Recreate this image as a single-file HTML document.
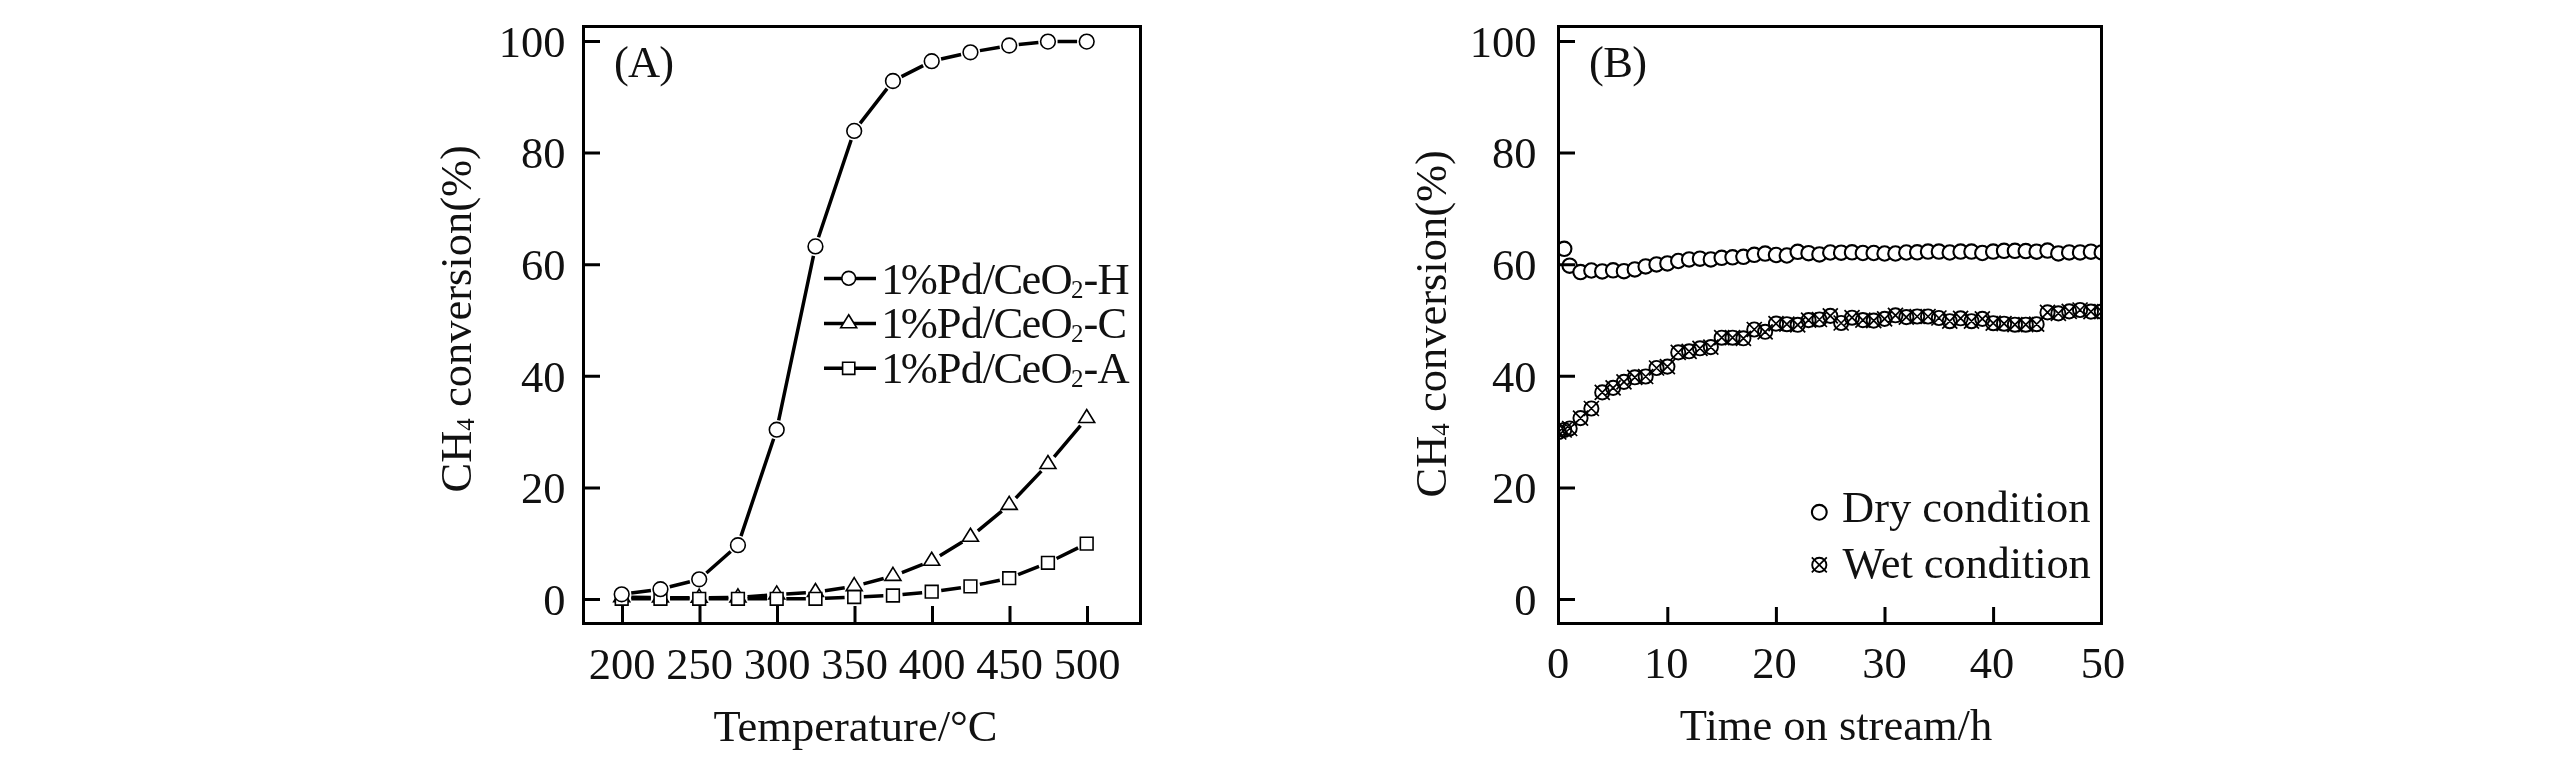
<!DOCTYPE html>
<html lang="en">
<head>
<meta charset="utf-8">
<title>CH4 conversion over Pd/CeO2 catalysts</title>
<style>
html,body{margin:0;padding:0;background:#fff;}
body{width:2567px;height:764px;overflow:hidden;}
svg{display:block;will-change:transform;}
svg text{font-family:"Liberation Serif","Times New Roman",serif;}
</style>
</head>
<body>
<svg width="2567" height="764" viewBox="0 0 2567 764">
<rect width="2567" height="764" fill="#fff"/>
<g id="chartA">
<path d="M631.3 597.37L650.85 597.53M670.05 597.65L689.6 597.75M708.8 597.73L728.35 597.57M747.52 596.78L767.13 595.32M786.28 594.01L805.87 592.79M824.94 590.75L844.71 587.75M863.48 583.83L883.67 578.47M901.89 572.51L922.76 564.39M939.86 555.85L962.29 541.95M977.86 530.8L1001.79 511.1M1015.81 498.04L1041.34 471.16M1054.13 456.86L1080.52 425.54" fill="none" stroke="#000" stroke-width="3.5"/>
<path d="M631.3 598.8L650.85 598.8M670.05 598.8L689.6 598.8M708.8 598.8L728.35 598.8M747.55 598.8L767.1 598.8M786.3 598.8L805.85 598.8M825.04 598.35L844.61 597.45M863.79 596.63L883.36 595.87M902.5 594.56L922.15 592.64M941.21 590.4L960.94 587.7M979.84 584.41L999.81 580.19M1018.12 574.65L1039.03 566.35M1056.55 558.54L1078.1 547.86" fill="none" stroke="#000" stroke-width="3.5"/>
<path d="M631.22 593.05L650.93 590.45M669.75 586.82L689.9 581.68M706.41 572.96L730.74 551.54M741 536.1L773.65 438.8M778.69 420.31L813.46 255.79M818.5 237.3L851.15 140M860.09 123.32L887.06 88.58M901.5 76.63L923.15 65.57M941.06 59.05L961.09 54.45M979.91 50.64L999.74 47.16M1018.75 44.54L1038.4 42.56M1057.55 41.6L1077.1 41.6" fill="none" stroke="#000" stroke-width="3.5"/>
<path d="M621.7 588.63L629.7 601.63L613.7 601.63ZM660.45 588.93L668.45 601.93L652.45 601.93ZM699.2 589.13L707.2 602.13L691.2 602.13ZM737.95 588.83L745.95 601.83L729.95 601.83ZM776.7 585.93L784.7 598.93L768.7 598.93ZM815.45 583.53L823.45 596.53L807.45 596.53ZM854.2 577.63L862.2 590.63L846.2 590.63ZM892.95 567.33L900.95 580.33L884.95 580.33ZM931.7 552.23L939.7 565.23L923.7 565.23ZM970.45 528.23L978.45 541.23L962.45 541.23ZM1009.2 496.33L1017.2 509.33L1001.2 509.33ZM1047.95 455.53L1055.95 468.53L1039.95 468.53ZM1086.7 409.53L1094.7 422.53L1078.7 422.53Z" fill="#fff" stroke="#000" stroke-width="1.6" stroke-linejoin="miter"/>
<path d="M615.35 592.45h12.7v12.7h-12.7ZM654.1 592.45h12.7v12.7h-12.7ZM692.85 592.45h12.7v12.7h-12.7ZM731.6 592.45h12.7v12.7h-12.7ZM770.35 592.45h12.7v12.7h-12.7ZM809.1 592.45h12.7v12.7h-12.7ZM847.85 590.65h12.7v12.7h-12.7ZM886.6 589.15h12.7v12.7h-12.7ZM925.35 585.35h12.7v12.7h-12.7ZM964.1 580.05h12.7v12.7h-12.7ZM1002.85 571.85h12.7v12.7h-12.7ZM1041.6 556.45h12.7v12.7h-12.7ZM1080.35 537.25h12.7v12.7h-12.7Z" fill="#fff" stroke="#000" stroke-width="1.6"/>
<g fill="#fff" stroke="#000" stroke-width="1.6"><circle cx="621.7" cy="594.3" r="7.35"/><circle cx="660.45" cy="589.2" r="7.35"/><circle cx="699.2" cy="579.3" r="7.35"/><circle cx="737.95" cy="545.2" r="7.35"/><circle cx="776.7" cy="429.7" r="7.35"/><circle cx="815.45" cy="246.4" r="7.35"/><circle cx="854.2" cy="130.9" r="7.35"/><circle cx="892.95" cy="81" r="7.35"/><circle cx="931.7" cy="61.2" r="7.35"/><circle cx="970.45" cy="52.3" r="7.35"/><circle cx="1009.2" cy="45.5" r="7.35"/><circle cx="1047.95" cy="41.6" r="7.35"/><circle cx="1086.7" cy="41.6" r="7.35"/></g>
<rect x="583.5" y="26.5" width="557.0" height="597.0" fill="none" stroke="#000" stroke-width="3"/>
<path d="M585 599.5H600M585 487.9H600M585 376.3H600M585 264.7H600M585 153.1H600M585 41.5H600M622.5 606V622M700 606V622M777.5 606V622M855 606V622M932.5 606V622M1010 606V622M1087.5 606V622" fill="none" stroke="#000" stroke-width="3"/>
<g font-size="44.5" fill="#111">
<g text-anchor="end">
<text transform="translate(565.5 614.8) scale(1 1.01)">0</text>
<text transform="translate(565.5 503.2) scale(1 1.01)">20</text>
<text transform="translate(565.5 391.6) scale(1 1.01)">40</text>
<text transform="translate(565.5 280) scale(1 1.01)">60</text>
<text transform="translate(565.5 168.4) scale(1 1.01)">80</text>
<text transform="translate(565.5 56.8) scale(1 1.01)">100</text>
</g><g text-anchor="middle">
<text transform="translate(622 678.7) scale(1 1.01)">200</text>
<text transform="translate(699.5 678.7) scale(1 1.01)">250</text>
<text transform="translate(777 678.7) scale(1 1.01)">300</text>
<text transform="translate(854.5 678.7) scale(1 1.01)">350</text>
<text transform="translate(932 678.7) scale(1 1.01)">400</text>
<text transform="translate(1009.5 678.7) scale(1 1.01)">450</text>
<text transform="translate(1087 678.7) scale(1 1.01)">500</text>
<text transform="translate(855.5 740.8) scale(1 1.01)">Temperature/°C</text>
</g>
<text transform="translate(614 76.7) scale(1 1.01)" letter-spacing="-0.9">(A)</text>
<text transform="translate(470.7 492.5) rotate(-90) scale(1 1.01)">CH<tspan font-size="25" dy="3.6">4</tspan><tspan dy="-3.6"> conversion(%)</tspan></text>
<text x="881.3" y="294" dx="0 -2.9 -1.1 -0.6 -0.4 -1.6 -1.7 -0.6">1%Pd/CeO<tspan font-size="25" dy="4" dx="-1.6">2</tspan><tspan dy="-4" dx="0 -1">-H</tspan></text>
<text x="881.3" y="338.2" dx="0 -2.9 -1.1 -0.6 -0.4 -1.6 -1.7 -0.6">1%Pd/CeO<tspan font-size="25" dy="4" dx="-1.6">2</tspan><tspan dy="-4" dx="0 -1">-C</tspan></text>
<text x="881.3" y="382.8" dx="0 -2.9 -1.1 -0.6 -0.4 -1.6 -1.7 -0.6">1%Pd/CeO<tspan font-size="25" dy="4" dx="-1.6">2</tspan><tspan dy="-4" dx="0 -1">-A</tspan></text>
</g>
<path d="M824 278.5H876M824 323.6H876M824 368.3H876" fill="none" stroke="#000" stroke-width="3.5"/>
<circle cx="848.7" cy="278.3" r="6.9" fill="#fff" stroke="#000" stroke-width="1.6"/>
<path d="M848.7 314.73L856.7 327.73L840.7 327.73Z" fill="#fff" stroke="#000" stroke-width="1.6"/>
<path d="M842.6 362.2h12.2v12.2h-12.2Z" fill="#fff" stroke="#000" stroke-width="1.6"/>
</g>
<g id="chartB">
<clipPath id="cb"><rect x="1558.5" y="26.5" width="543" height="597"/></clipPath>
<g clip-path="url(#cb)">
<g fill="#fff" stroke="#000" stroke-width="2.1"><circle cx="1564.23" cy="248.8" r="7.2"/><circle cx="1569.66" cy="265.7" r="7.2"/><circle cx="1580.52" cy="272.1" r="7.2"/><circle cx="1591.38" cy="270.5" r="7.2"/><circle cx="1602.24" cy="271.4" r="7.2"/><circle cx="1613.1" cy="270.3" r="7.2"/><circle cx="1623.96" cy="271.2" r="7.2"/><circle cx="1634.82" cy="269.4" r="7.2"/><circle cx="1645.68" cy="266.4" r="7.2"/><circle cx="1656.54" cy="264.4" r="7.2"/><circle cx="1667.4" cy="263.4" r="7.2"/><circle cx="1678.26" cy="261" r="7.2"/><circle cx="1689.12" cy="259.4" r="7.2"/><circle cx="1699.98" cy="258.7" r="7.2"/><circle cx="1710.84" cy="259.4" r="7.2"/><circle cx="1721.7" cy="257.8" r="7.2"/><circle cx="1732.56" cy="257.3" r="7.2"/><circle cx="1743.42" cy="256.8" r="7.2"/><circle cx="1754.28" cy="254.8" r="7.2"/><circle cx="1765.14" cy="253.6" r="7.2"/><circle cx="1776" cy="255" r="7.2"/><circle cx="1786.86" cy="255.5" r="7.2"/><circle cx="1797.72" cy="251.8" r="7.2"/><circle cx="1808.58" cy="253.2" r="7.2"/><circle cx="1819.44" cy="254.4" r="7.2"/><circle cx="1830.3" cy="252.5" r="7.2"/><circle cx="1841.16" cy="252.7" r="7.2"/><circle cx="1852.02" cy="252.3" r="7.2"/><circle cx="1862.88" cy="253" r="7.2"/><circle cx="1873.74" cy="253" r="7.2"/><circle cx="1884.6" cy="253.5" r="7.2"/><circle cx="1895.46" cy="253.5" r="7.2"/><circle cx="1906.32" cy="252.5" r="7.2"/><circle cx="1917.18" cy="252.3" r="7.2"/><circle cx="1928.04" cy="251.6" r="7.2"/><circle cx="1938.9" cy="251.6" r="7.2"/><circle cx="1949.76" cy="252.5" r="7.2"/><circle cx="1960.62" cy="251.6" r="7.2"/><circle cx="1971.48" cy="251.6" r="7.2"/><circle cx="1982.34" cy="253" r="7.2"/><circle cx="1993.2" cy="251.6" r="7.2"/><circle cx="2004.06" cy="250.8" r="7.2"/><circle cx="2014.92" cy="250.8" r="7.2"/><circle cx="2025.78" cy="251.1" r="7.2"/><circle cx="2036.64" cy="251.7" r="7.2"/><circle cx="2047.5" cy="250.6" r="7.2"/><circle cx="2058.36" cy="253.4" r="7.2"/><circle cx="2069.22" cy="252.4" r="7.2"/><circle cx="2080.08" cy="252.4" r="7.2"/><circle cx="2090.94" cy="251.7" r="7.2"/><circle cx="2101.8" cy="252.4" r="7.2"/></g>
<g fill="none" stroke="#000" stroke-width="1.9"><circle cx="1558.8" cy="432" r="7.1"/><circle cx="1564.23" cy="430" r="7.1"/><circle cx="1569.66" cy="428.5" r="7.1"/><circle cx="1580.52" cy="418.1" r="7.1"/><circle cx="1591.38" cy="408.5" r="7.1"/><circle cx="1602.24" cy="392.4" r="7.1"/><circle cx="1613.1" cy="387.9" r="7.1"/><circle cx="1623.96" cy="381.9" r="7.1"/><circle cx="1634.82" cy="377.3" r="7.1"/><circle cx="1645.68" cy="376.5" r="7.1"/><circle cx="1656.54" cy="368" r="7.1"/><circle cx="1667.4" cy="366.6" r="7.1"/><circle cx="1678.26" cy="352.4" r="7.1"/><circle cx="1689.12" cy="351.3" r="7.1"/><circle cx="1699.98" cy="348.3" r="7.1"/><circle cx="1710.84" cy="347.1" r="7.1"/><circle cx="1721.7" cy="337.7" r="7.1"/><circle cx="1732.56" cy="337.7" r="7.1"/><circle cx="1743.42" cy="338.3" r="7.1"/><circle cx="1754.28" cy="329.5" r="7.1"/><circle cx="1765.14" cy="331.8" r="7.1"/><circle cx="1776" cy="323.6" r="7.1"/><circle cx="1786.86" cy="324.2" r="7.1"/><circle cx="1797.72" cy="324.8" r="7.1"/><circle cx="1808.58" cy="320.1" r="7.1"/><circle cx="1819.44" cy="319.5" r="7.1"/><circle cx="1830.3" cy="315.9" r="7.1"/><circle cx="1841.16" cy="323" r="7.1"/><circle cx="1852.02" cy="317.7" r="7.1"/><circle cx="1862.88" cy="320.1" r="7.1"/><circle cx="1873.74" cy="320.6" r="7.1"/><circle cx="1884.6" cy="318.9" r="7.1"/><circle cx="1895.46" cy="315.3" r="7.1"/><circle cx="1906.32" cy="317.1" r="7.1"/><circle cx="1917.18" cy="316.5" r="7.1"/><circle cx="1928.04" cy="316.5" r="7.1"/><circle cx="1938.9" cy="318" r="7.1"/><circle cx="1949.76" cy="321.2" r="7.1"/><circle cx="1960.62" cy="318.3" r="7.1"/><circle cx="1971.48" cy="321.2" r="7.1"/><circle cx="1982.34" cy="318.9" r="7.1"/><circle cx="1993.2" cy="323.2" r="7.1"/><circle cx="2004.06" cy="323.7" r="7.1"/><circle cx="2014.92" cy="324.7" r="7.1"/><circle cx="2025.78" cy="324.7" r="7.1"/><circle cx="2036.64" cy="324.2" r="7.1"/><circle cx="2047.5" cy="312.4" r="7.1"/><circle cx="2058.36" cy="313.4" r="7.1"/><circle cx="2069.22" cy="311.4" r="7.1"/><circle cx="2080.08" cy="310" r="7.1"/><circle cx="2090.94" cy="311.6" r="7.1"/><circle cx="2101.8" cy="311.6" r="7.1"/><path d="M1551.3 424.5l15 15m0 -15l-15 15M1556.73 422.5l15 15m0 -15l-15 15M1562.16 421l15 15m0 -15l-15 15M1573.02 410.6l15 15m0 -15l-15 15M1583.88 401l15 15m0 -15l-15 15M1594.74 384.9l15 15m0 -15l-15 15M1605.6 380.4l15 15m0 -15l-15 15M1616.46 374.4l15 15m0 -15l-15 15M1627.32 369.8l15 15m0 -15l-15 15M1638.18 369l15 15m0 -15l-15 15M1649.04 360.5l15 15m0 -15l-15 15M1659.9 359.1l15 15m0 -15l-15 15M1670.76 344.9l15 15m0 -15l-15 15M1681.62 343.8l15 15m0 -15l-15 15M1692.48 340.8l15 15m0 -15l-15 15M1703.34 339.6l15 15m0 -15l-15 15M1714.2 330.2l15 15m0 -15l-15 15M1725.06 330.2l15 15m0 -15l-15 15M1735.92 330.8l15 15m0 -15l-15 15M1746.78 322l15 15m0 -15l-15 15M1757.64 324.3l15 15m0 -15l-15 15M1768.5 316.1l15 15m0 -15l-15 15M1779.36 316.7l15 15m0 -15l-15 15M1790.22 317.3l15 15m0 -15l-15 15M1801.08 312.6l15 15m0 -15l-15 15M1811.94 312l15 15m0 -15l-15 15M1822.8 308.4l15 15m0 -15l-15 15M1833.66 315.5l15 15m0 -15l-15 15M1844.52 310.2l15 15m0 -15l-15 15M1855.38 312.6l15 15m0 -15l-15 15M1866.24 313.1l15 15m0 -15l-15 15M1877.1 311.4l15 15m0 -15l-15 15M1887.96 307.8l15 15m0 -15l-15 15M1898.82 309.6l15 15m0 -15l-15 15M1909.68 309l15 15m0 -15l-15 15M1920.54 309l15 15m0 -15l-15 15M1931.4 310.5l15 15m0 -15l-15 15M1942.26 313.7l15 15m0 -15l-15 15M1953.12 310.8l15 15m0 -15l-15 15M1963.98 313.7l15 15m0 -15l-15 15M1974.84 311.4l15 15m0 -15l-15 15M1985.7 315.7l15 15m0 -15l-15 15M1996.56 316.2l15 15m0 -15l-15 15M2007.42 317.2l15 15m0 -15l-15 15M2018.28 317.2l15 15m0 -15l-15 15M2029.14 316.7l15 15m0 -15l-15 15M2040 304.9l15 15m0 -15l-15 15M2050.86 305.9l15 15m0 -15l-15 15M2061.72 303.9l15 15m0 -15l-15 15M2072.58 302.5l15 15m0 -15l-15 15M2083.44 304.1l15 15m0 -15l-15 15M2094.3 304.1l15 15m0 -15l-15 15" stroke-width="1.7"/></g>
</g>
<rect x="1558.5" y="26.5" width="543.0" height="597.0" fill="none" stroke="#000" stroke-width="3"/>
<path d="M1560 599.5H1575M1560 487.9H1575M1560 376.3H1575M1560 264.7H1575M1560 153.1H1575M1560 41.5H1575M1667.8 607V622M1776.4 607V622M1885 607V622M1993.6 607V622" fill="none" stroke="#000" stroke-width="3"/>
<g font-size="44.5" fill="#111">
<g text-anchor="end">
<text transform="translate(1536.5 614.8) scale(1 1.01)">0</text>
<text transform="translate(1536.5 503.2) scale(1 1.01)">20</text>
<text transform="translate(1536.5 391.6) scale(1 1.01)">40</text>
<text transform="translate(1536.5 280) scale(1 1.01)">60</text>
<text transform="translate(1536.5 168.4) scale(1 1.01)">80</text>
<text transform="translate(1536.5 56.8) scale(1 1.01)">100</text>
</g><g text-anchor="middle">
<text transform="translate(1558 678.3) scale(1 1.01)">0</text>
<text transform="translate(1666.2 678.3) scale(1 1.01)">10</text>
<text transform="translate(1774.6 678.3) scale(1 1.01)">20</text>
<text transform="translate(1884.4 678.3) scale(1 1.01)">30</text>
<text transform="translate(1992.1 678.3) scale(1 1.01)">40</text>
<text transform="translate(2103 678.3) scale(1 1.01)">50</text>
<text transform="translate(1836 740.2) scale(1 1.01)">Time on stream/h</text>
</g>
<text transform="translate(1589 76.7) scale(1 1.01)" letter-spacing="-0.6">(B)</text>
<text transform="translate(1445.7 497.5) rotate(-90) scale(1 1.01)">CH<tspan font-size="25" dy="3.6">4</tspan><tspan dy="-3.6"> conversion(%)</tspan></text>
<text x="1842" y="522">Dry condition</text>
<text x="1842.5" y="578" letter-spacing="-0.12">Wet condition</text>
</g>
<circle cx="1819.3" cy="512.3" r="7.4" fill="#fff" stroke="#000" stroke-width="2.1"/>
<g fill="none" stroke="#000" stroke-width="1.9"><circle cx="1819.3" cy="564.9" r="7.1"/><path d="M1811.8 557.4l15 15m0 -15l-15 15" stroke-width="1.7"/></g>
</g>
</svg>
</body>
</html>
